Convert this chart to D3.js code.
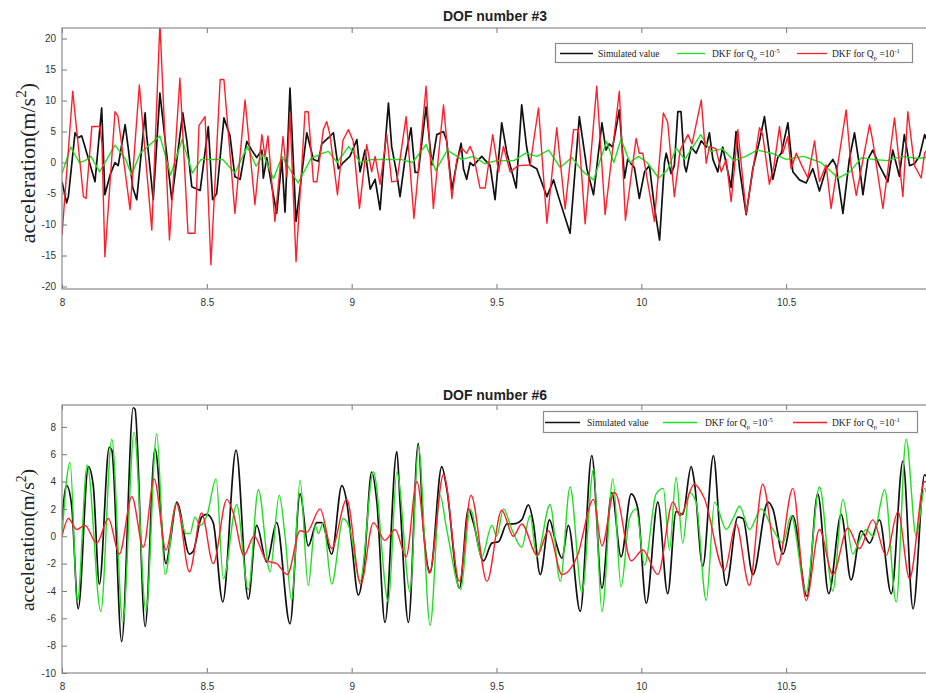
<!DOCTYPE html>
<html>
<head>
<meta charset="utf-8">
<script src="https://cdn.jsdelivr.net/npm/d3@7"></script>
<style>
body { margin: 0; background: #fff; }
svg { display: block; }
.tick text { font-family: "Liberation Sans", Arial, sans-serif; font-size: 10px; fill: #333; }
.tick line { stroke: #777; }
</style>
</head>
<body>
<svg width="926" height="693"></svg>
<script>
// x ticks shared by both panels
var xTicks = [8, 8.5, 9, 9.5, 10, 10.5, 11];
var yTicks3 = [-20, -15, -10, -5, 0, 5, 10, 15, 20];
var yTicks6 = [-10, -8, -6, -4, -2, 0, 2, 4, 6, 8];

var seriesNames = ["Simulated value", "DKF for Q", "DKF for Q"];

// DOF #3 : [time, acceleration]
var dof3Sim = [[8.000,-3.1],[8.016,-6.5],[8.022,-5.5],[8.045,4.8],[8.056,4],[8.068,4.3],[8.079,2.6],[8.114,-3.1],[8.137,8.8],[8.148,-5.2],[8.166,-2],[8.183,0],[8.194,-0.5],[8.218,6.1],[8.229,2.2],[8.244,-4],[8.258,-6],[8.287,8],[8.292,4.5],[8.315,-6],[8.338,11.2],[8.379,-6],[8.417,8],[8.431,3.5],[8.448,-3.9],[8.477,-4.5],[8.505,5.8],[8.520,-6],[8.534,-5],[8.559,7.2],[8.580,4.3],[8.597,-2.3],[8.615,-2.7],[8.638,3.4],[8.655,2],[8.672,0.8],[8.690,2],[8.695,-2.5],[8.707,0.8],[8.741,-8.2],[8.759,0.5],[8.770,-8],[8.787,12],[8.808,-9.5],[8.845,4.8],[8.868,0.5],[8.885,0.2],[8.897,3],[8.920,4],[8.937,4.8],[8.954,-1],[8.971,0],[8.994,1],[9.018,3.7],[9.029,-1.5],[9.046,2],[9.064,-4.3],[9.081,-2.7],[9.098,-7.6],[9.109,-1],[9.127,9.6],[9.138,2.6],[9.156,-1.9],[9.167,-5.5],[9.184,0.5],[9.205,5.6],[9.219,-1.6],[9.230,-1.6],[9.257,9],[9.277,-0.4],[9.294,4.5],[9.317,5],[9.328,3.5],[9.346,-4.4],[9.363,0],[9.378,3.1],[9.386,-1],[9.397,-2.7],[9.409,0],[9.420,-0.5],[9.449,1],[9.478,-0.5],[9.495,-6],[9.518,6.4],[9.536,1.5],[9.568,-4.1],[9.587,9.3],[9.604,2.5],[9.616,-0.4],[9.639,-1],[9.674,-5.5],[9.697,-2.8],[9.714,-5.5],[9.754,-11.4],[9.786,7.4],[9.812,-1],[9.835,-5.2],[9.864,6.4],[9.878,2],[9.889,3],[9.901,2.5],[9.924,8.5],[9.942,-2.5],[9.953,0.5],[9.965,-0.2],[9.976,-0.8],[9.993,-5.8],[10.011,-1.5],[10.028,-0.5],[10.045,-7.1],[10.063,-12.5],[10.080,0],[10.086,1.5],[10.103,-1.8],[10.114,-0.5],[10.126,8.2],[10.137,8.2],[10.149,-0.5],[10.155,-1.5],[10.172,2.5],[10.189,1.5],[10.207,3.5],[10.224,2.5],[10.235,4.8],[10.247,0.5],[10.264,-1.5],[10.281,2.5],[10.310,-4],[10.327,5],[10.339,-1],[10.362,-8.4],[10.385,-1],[10.408,3.5],[10.425,7.4],[10.442,1.5],[10.454,-2.7],[10.471,0.8],[10.483,1.5],[10.506,6.4],[10.523,-1.5],[10.546,-2.8],[10.569,-3.3],[10.592,-1],[10.615,-4.6],[10.638,-1],[10.661,0.5],[10.672,-0.5],[10.696,-8.2],[10.718,0.5],[10.736,4.8],[10.753,-0.5],[10.765,-5.2],[10.782,0.5],[10.799,2],[10.822,-0.5],[10.851,-3.1],[10.868,2],[10.891,-2.2],[10.908,4.5],[10.926,-0.5],[10.943,-0.2],[10.960,1],[10.978,4.5],[11.000,2]];
var dof3Dkf5 = [[8.000,-1.8],[8.030,2.5],[8.060,0],[8.080,0.3],[8.100,1],[8.130,-1.5],[8.183,2.8],[8.220,0.5],[8.240,-2],[8.270,1.5],[8.338,4.3],[8.375,-2],[8.415,3.7],[8.450,-1.7],[8.480,0.5],[8.520,0.5],[8.555,0.5],[8.597,-1.7],[8.640,2.6],[8.670,-0.6],[8.695,1.3],[8.730,-2.6],[8.760,1],[8.815,-3.3],[8.860,0.7],[8.900,1.5],[8.920,1.8],[8.950,0],[8.990,2.6],[9.030,0],[9.070,0.5],[9.120,0.5],[9.170,0.5],[9.210,0],[9.257,2.9],[9.290,-1.3],[9.330,2],[9.380,0.5],[9.420,1],[9.460,-0.2],[9.500,0.3],[9.560,0.3],[9.600,1.5],[9.640,1],[9.680,2],[9.720,-0.8],[9.760,0.8],[9.800,-1.5],[9.835,-2.8],[9.880,3.4],[9.905,0],[9.930,3.8],[9.960,0],[9.990,1],[10.020,0],[10.060,-2.5],[10.090,-1.2],[10.120,2.3],[10.150,0.5],[10.205,4.5],[10.240,1.8],[10.280,2.2],[10.320,0.3],[10.360,1],[10.400,2],[10.450,1.5],[10.500,0.5],[10.560,1],[10.620,0],[10.680,-2.5],[10.720,-1.5],[10.760,0.8],[10.800,0.5],[10.850,0.3],[10.900,1],[10.950,0.7],[11.000,0.8]];
var dof3Dkf1 = [[8.000,-11.7],[8.037,11.5],[8.074,-5.5],[8.083,-5.8],[8.103,5.8],[8.131,5.8],[8.138,3],[8.148,-15.2],[8.183,8.2],[8.193,7.5],[8.235,-7.6],[8.267,12.5],[8.310,-10.9],[8.338,22.5],[8.371,-12.5],[8.407,13.6],[8.435,-11.4],[8.459,-11.4],[8.473,6],[8.494,7.4],[8.514,-16.5],[8.546,13.4],[8.559,13.4],[8.597,-8.2],[8.632,10.1],[8.666,-6.8],[8.690,4.5],[8.701,1],[8.711,4.3],[8.735,-9.5],[8.763,4.2],[8.776,-2.3],[8.787,8],[8.808,-16],[8.839,8.2],[8.850,8.2],[8.868,-3.1],[8.880,-3.1],[8.902,5.3],[8.914,6.6],[8.925,4.5],[8.951,-5.2],[8.970,3.6],[8.989,5.3],[9.005,3.5],[9.027,-7.4],[9.052,2.9],[9.069,-1.5],[9.081,1],[9.098,-3.5],[9.121,4.5],[9.138,-3.1],[9.156,-3],[9.188,7.4],[9.215,-9],[9.257,12.3],[9.282,-7.4],[9.317,9.3],[9.346,-5.8],[9.363,0.5],[9.380,2.3],[9.397,1.5],[9.409,2.6],[9.419,1.5],[9.443,-4.1],[9.461,-4.1],[9.487,4.5],[9.507,-1.5],[9.524,2.6],[9.547,-1.5],[9.575,-0.5],[9.616,-0.4],[9.645,8.8],[9.674,-9.8],[9.708,5.6],[9.737,-7.5],[9.766,5.3],[9.783,5.3],[9.806,-9.9],[9.846,12.3],[9.875,-8.4],[9.924,11.5],[9.945,-9.3],[9.982,3.9],[9.993,1.5],[10.005,1.5],[10.045,-9.5],[10.076,8],[10.091,6.5],[10.114,-5.5],[10.134,2],[10.161,4.5],[10.175,3],[10.207,10.1],[10.224,-0.1],[10.235,2.6],[10.258,2.2],[10.276,-1.5],[10.293,0.5],[10.310,-6.3],[10.321,-1],[10.333,5.3],[10.362,-8.2],[10.389,0],[10.408,5.6],[10.419,4.5],[10.442,-3.5],[10.458,-0.5],[10.477,5.8],[10.488,1.5],[10.506,4.2],[10.517,-1],[10.535,1.5],[10.554,-0.5],[10.575,-2.5],[10.598,3.5],[10.615,-3.1],[10.638,-0.4],[10.655,-7.4],[10.707,8.5],[10.724,-0.5],[10.742,-5.3],[10.788,6.1],[10.799,3.5],[10.834,-7.4],[10.874,7.2],[10.903,-5.5],[10.920,8.2],[10.943,-0.5],[10.966,-2.5],[10.978,1.5],[11.000,3]];

// DOF #6 : [time, acceleration]
var dof6Sim = [[8.000,1.2],[8.016,3.7],[8.033,2.3],[8.056,-5.3],[8.091,5.1],[8.108,3.7],[8.129,-3.5],[8.163,6.5],[8.172,6.3],[8.206,-7.7],[8.246,9.4],[8.252,9.3],[8.287,-6.6],[8.321,6.4],[8.359,-2],[8.373,-0.5],[8.396,2.5],[8.440,-1.3],[8.453,-1.1],[8.482,1.4],[8.500,1.6],[8.522,1],[8.555,-4.8],[8.601,6.3],[8.643,-4.6],[8.672,0.8],[8.707,-1.9],[8.741,1],[8.787,-6.4],[8.822,3.1],[8.850,-0.7],[8.880,1],[8.897,1],[8.931,-1.3],[8.966,3.7],[8.983,2.5],[9.000,-0.5],[9.023,-4.3],[9.043,-2],[9.069,4.7],[9.087,2.5],[9.115,-6.3],[9.156,6.2],[9.167,2.5],[9.196,-6.3],[9.230,6.8],[9.248,0.5],[9.271,-2.6],[9.311,5.1],[9.328,3.5],[9.372,-3.8],[9.403,2],[9.420,1],[9.455,-1.8],[9.484,-0.5],[9.507,-0.4],[9.536,0.9],[9.558,0.9],[9.587,1.2],[9.610,2.3],[9.627,1],[9.651,-2.8],[9.683,1.2],[9.702,-0.2],[9.726,-1.6],[9.748,0.8],[9.789,-5.5],[9.829,5.9],[9.864,-3.8],[9.898,3.2],[9.930,-1.5],[9.965,3.1],[9.988,2],[10.017,-4.9],[10.057,2.5],[10.091,-4.2],[10.120,1.8],[10.143,1.6],[10.172,5.1],[10.183,4],[10.212,-2.2],[10.249,5.9],[10.272,0],[10.293,-3.6],[10.333,1.4],[10.351,1.3],[10.385,-2.8],[10.437,2.5],[10.454,2],[10.489,-1.3],[10.523,1.5],[10.572,-4.4],[10.609,3.1],[10.647,-4.2],[10.690,1.6],[10.724,-3.2],[10.759,0.4],[10.788,-0.5],[10.822,1.2],[10.863,-4.2],[10.903,5.5],[10.938,-5.3],[10.978,4.5],[11.000,3.5]];
var dof6Dkf5 = [[8.000,0],[8.028,5.4],[8.053,-4.8],[8.087,5.2],[8.134,-5.5],[8.172,7.1],[8.210,-6.3],[8.249,7.6],[8.290,-5.5],[8.327,7.5],[8.356,-2.8],[8.394,2.4],[8.428,0.2],[8.442,0.2],[8.459,1.4],[8.477,0.8],[8.500,1.5],[8.532,4.2],[8.557,-3.1],[8.603,2.3],[8.643,-3.9],[8.678,3.4],[8.718,-2.6],[8.750,3],[8.770,0],[8.793,-4.7],[8.822,4.1],[8.850,-3.6],[8.874,0.8],[8.885,0.2],[8.902,1],[8.931,-3.5],[8.971,1.3],[8.994,0.5],[9.029,-3.3],[9.075,4.7],[9.127,-4.8],[9.156,4.7],[9.202,-4.1],[9.230,6.6],[9.271,-6.5],[9.305,3],[9.328,0.5],[9.377,-3.9],[9.409,2],[9.449,-1.5],[9.484,0.8],[9.501,0],[9.524,2],[9.553,0.5],[9.587,-0.8],[9.616,1.5],[9.639,-1.5],[9.685,2.3],[9.720,-3.3],[9.754,3.6],[9.795,-4.1],[9.835,4.9],[9.864,-5.5],[9.902,4.2],[9.930,-3.7],[9.959,1.3],[9.982,2],[10.011,-2.1],[10.051,3.1],[10.076,3.5],[10.097,-1],[10.120,4.3],[10.143,-0.5],[10.166,3.2],[10.189,2.5],[10.224,-4.7],[10.253,2.5],[10.293,0.5],[10.321,1.5],[10.339,2.2],[10.373,0.5],[10.414,2],[10.454,0.5],[10.489,-0.5],[10.517,1.5],[10.569,-4.1],[10.615,3.6],[10.661,-4],[10.696,2.7],[10.730,-1.3],[10.749,-0.5],[10.776,0.5],[10.800,0],[10.840,3.4],[10.880,-4.8],[10.914,7.1],[10.949,0],[10.978,3.5],[11.000,0]];
var dof6Dkf1 = [[8.000,0],[8.022,1.3],[8.051,0.5],[8.079,0.8],[8.120,-0.5],[8.160,1.3],[8.198,-1.3],[8.241,2.9],[8.281,-0.8],[8.318,4.2],[8.359,-1],[8.396,2.4],[8.440,-2.6],[8.482,1.7],[8.522,-2],[8.569,2.7],[8.590,1.8],[8.628,-1.4],[8.663,0],[8.707,-1.8],[8.741,-2],[8.778,-2.8],[8.822,0.4],[8.845,0.3],[8.891,2],[8.931,-0.9],[8.983,2.7],[9.031,-3.5],[9.075,1],[9.115,-0.3],[9.150,0.5],[9.188,-1.5],[9.225,4],[9.268,-2.7],[9.317,4.5],[9.372,-3.3],[9.412,3],[9.467,-3.3],[9.518,1.9],[9.558,0],[9.587,0.9],[9.641,-1.4],[9.679,0.4],[9.726,-2.8],[9.778,-1.5],[9.835,2.7],[9.864,-0.7],[9.906,3.2],[9.913,3.1],[9.965,-1.8],[10.005,-1],[10.057,-2.8],[10.109,2.5],[10.134,1.5],[10.183,3.8],[10.217,2.8],[10.287,-2.5],[10.327,0.9],[10.373,-3.6],[10.419,3.8],[10.471,-2.1],[10.523,3.5],[10.569,-4.7],[10.615,0.5],[10.661,-2.8],[10.713,0.6],[10.753,-0.9],[10.799,1.2],[10.845,-1.4],[10.886,1.8],[10.926,-3.1],[10.978,4],[11.000,3.5]];

var svg = d3.select("svg");
var colors = ["#111111", "#1fe01f", "#ff1f2a"];

function drawPanel(p) {
	var x = d3.scaleLinear().domain([8, 11]).range([p.left, p.right]);
	var y = d3.scaleLinear().domain(p.yDomain).range([p.bottom, p.top]);
	var g = svg.append("g");

	g.append("clipPath").attr("id", p.id)
		.append("rect")
		.attr("x", p.left).attr("y", p.top)
		.attr("width", p.right - p.left).attr("height", p.bottom - p.top);

	var line = d3.line()
		.curve(p.curve)
		.x(function(d) { return x(d[0]); })
		.y(function(d) { return y(d[1]); });

	var lines = g.append("g").attr("clip-path", "url(#" + p.id + ")");
	p.series.forEach(function(s, i) {
		lines.append("path")
			.datum(s)
			.attr("d", line)
			.attr("fill", "none")
			.attr("stroke", colors[i])
			.attr("stroke-width", i == 0 ? 1.7 : 1.4)
			.attr("stroke-linejoin", "round");
	});

	// axes, MATLAB style ticks pointing in
	g.append("g").attr("transform", "translate(0," + p.bottom + ")")
		.call(d3.axisBottom(x).tickValues(xTicks).tickSize(-5).tickPadding(10)
			.tickFormat(function(d) { return String(d); }));
	g.append("g").attr("transform", "translate(0," + p.top + ")")
		.call(d3.axisTop(x).tickValues(xTicks).tickSize(-5).tickFormat(""));
	g.append("g").attr("transform", "translate(" + p.left + ",0)")
		.call(d3.axisLeft(y).tickValues(p.yTicks).tickSize(-5).tickPadding(6)
			.tickFormat(function(d) { return String(d); }));
	g.append("g").attr("transform", "translate(" + p.right + ",0)")
		.call(d3.axisRight(y).tickValues(p.yTicks).tickSize(-5).tickFormat(""));
	g.selectAll(".domain").remove();

	g.append("rect")
		.attr("x", p.left).attr("y", p.top)
		.attr("width", p.right - p.left).attr("height", p.bottom - p.top)
		.attr("fill", "none").attr("stroke", "#8a8a8a").attr("stroke-width", 1.2);

	g.append("text")
		.attr("x", 495).attr("y", p.titleY)
		.attr("text-anchor", "middle")
		.style("font-family", "Liberation Sans, Arial, sans-serif")
		.style("font-weight", "bold").style("font-size", "14px")
		.attr("fill", "#222")
		.text(p.title);

	var lab = g.append("text")
		.attr("transform", "translate(" + p.labelX + "," + p.labelY + ") rotate(-90)")
		.attr("text-anchor", "middle")
		.style("font-family", "Liberation Serif, Times New Roman, serif")
		.style("font-size", p.labelSize + "px")
		.attr("fill", "#222");
	lab.append("tspan").text("acceleration(m/s");
	lab.append("tspan").attr("dy", -p.labelSize * 0.4).style("font-size", (p.labelSize * 0.7) + "px").text("2");
	lab.append("tspan").attr("dy", p.labelSize * 0.4).text(")");

	// legend
	var lg = p.legend;
	g.append("rect")
		.attr("x", lg.x + 0.5).attr("y", lg.y + 0.5).attr("width", lg.w).attr("height", lg.h)
		.attr("fill", "#fff").attr("stroke", "#8a8a8a").attr("stroke-width", 1.2);
	var ly = Math.round(lg.y + lg.h / 2) + 0.5;
	var exps = ["", "-5", "-1"];
	lg.items.forEach(function(it, i) {
		g.append("line")
			.attr("x1", it[0]).attr("x2", it[1])
			.attr("y1", ly).attr("y2", ly)
			.attr("stroke", colors[i]).attr("stroke-width", 1.3);
		var t = g.append("text")
			.attr("x", it[2]).attr("y", ly + 3)
			.style("font-family", "Liberation Serif, Times New Roman, serif")
			.style("font-size", lg.fs + "px")
			.attr("fill", "#222");
		t.append("tspan").text(seriesNames[i]);
		if (i > 0) {
			t.append("tspan").attr("dy", 3).style("font-size", (lg.fs * 0.7) + "px").text("p");
			t.append("tspan").attr("dy", -3).text(" =10");
			t.append("tspan").attr("dy", -4).style("font-size", (lg.fs * 0.7) + "px").text(exps[i]);
		}
	});
}

drawPanel({
	id: "clip3", title: "DOF number #3", titleY: 21,
	left: 62, right: 931, top: 28, bottom: 289,
	yDomain: [-20.4, 21.7], yTicks: yTicks3,
	series: [dof3Sim, dof3Dkf5, dof3Dkf1], curve: d3.curveLinear,
	labelX: 35, labelY: 163, labelSize: 22,
	legend: { x: 555, y: 43, w: 357, h: 19, fs: 9.5,
		items: [[560, 593, 598], [677, 705, 712], [797, 827, 832]] }
});

drawPanel({
	id: "clip6", title: "DOF number #6", titleY: 400,
	left: 62, right: 931, top: 405, bottom: 673,
	yDomain: [-10, 9.6], yTicks: yTicks6,
	series: [dof6Sim, dof6Dkf5, dof6Dkf1], curve: d3.curveMonotoneX,
	labelX: 34, labelY: 540, labelSize: 19.5,
	legend: { x: 543, y: 411, w: 374, h: 21, fs: 9.5,
		items: [[545, 580, 587], [663, 697, 705], [793, 827, 832]] }
});
</script>
</body>
</html>
